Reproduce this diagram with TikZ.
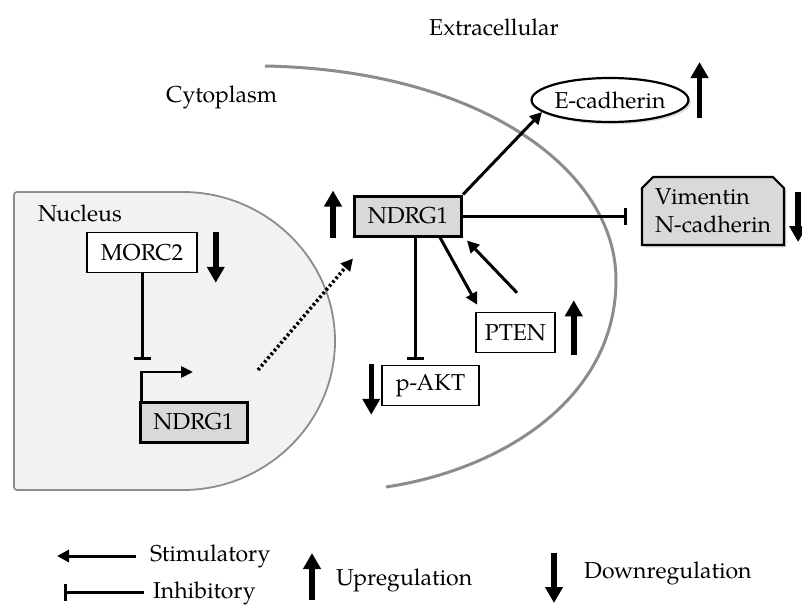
\documentclass[tikz,border=0pt]{standalone}
\usepackage{fontspec}
\setmainfont{TeX Gyre Pagella}
\usepackage{tikz}
\usetikzlibrary{arrows.meta,shapes.geometric,shapes.misc,shadows}
\definecolor{nucfill}{HTML}{F2F2F2}
\definecolor{boxgray}{HTML}{D9D9D9}
\definecolor{linegray}{HTML}{8C8C8C}
\tikzstyle{genebox} = [draw=black, fill=boxgray, line width=3pt,
    rectangle, inner sep=0pt, minimum width=107pt, minimum height=40pt]
\tikzstyle{protbox} = [draw=black, fill=white, line width=1.5pt,
    rectangle, inner sep=0pt, minimum height=40pt]
\tikzstyle{vimbox} = [draw=black, fill=boxgray, line width=2.2pt,
    chamfered rectangle, chamfered rectangle corners={north west,north east},
    chamfered rectangle xsep=8pt, inner sep=0pt, minimum width=142pt,
    minimum height=68pt, align=left, drop shadow={opacity=0.35}]
\tikzstyle{ecadnode} = [draw=black, fill=white, line width=2.2pt, ellipse,
    inner sep=0pt, minimum width=142pt, minimum height=44pt, drop shadow={opacity=0.25}]
\tikzstyle{lbl} = [inner sep=0pt, anchor=west]
\tikzstyle{regarrow} = [line width=5.5pt, -{Triangle[length=16pt,width=17pt]}]
\tikzstyle{stim} = [line width=3pt, -{Triangle[length=12pt,width=12pt]}]
\tikzstyle{inhib} = [line width=3pt, -{Bar[width=17pt]}]

\begin{document}
\begin{tikzpicture}[x=1pt, y=-1pt, every node/.style={font=\fontsize{23}{28}\selectfont}]
                \useasboundingbox (0,0) rectangle (802,605);
                % compartments
                \filldraw[fill=nucfill, draw=linegray, line width=1.8pt, rounded corners=3pt]
                    (180,490) arc[start angle=90, end angle=-90, x radius=155, y radius=149]
                    -- (14,192) -- (14,490) -- cycle;
                \draw[linegray, line width=3pt] (265,66) .. controls (480,70) and (616,170) .. (616,280)
                    .. controls (616,400) and (500,470) .. (386,487);
                \node[lbl] (nuclab) at (38,213) {Nucleus};
                \node[lbl] (cytlab) at (166,97) {Cytoplasm};
                \node[lbl] (extlab) at (429,27) {Extracellular};
                % nodes
                \node[protbox, minimum width=110pt] (morc) at (142,252.5) {MORC2};
                \node[genebox] (ndrgN) at (193.5,422) {NDRG1};
                \node[genebox] (ndrgC) at (408,216) {NDRG1};
                \node[protbox, minimum width=97pt] (pakt) at (430.5,385.5) {p-AKT};
                \node[protbox, minimum width=79pt] (pten) at (515.5,332.5) {PTEN};
                \node[vimbox] (vim) at (713,211) {Vimentin\\N-cadherin};
                \node[ecadnode] (ecad) at (610,100) {E-cadherin};
                \coordinate (tss) at (193,372);
                \coordinate (block) at (145,360);
                \coordinate (dotstart) at (258,370);
                % connectors
                \draw[inhib] (morc.south) -- (morc.south |- block);
                \draw[line width=2.8pt, -{Triangle[length=12pt,width=11pt]}] ([xshift=3pt]ndrgN.north west) |- (tss);
                \draw[stim, line width=3.5pt, dash pattern=on 2.5pt off 2.5pt] (dotstart) -- ([yshift=-21pt]ndrgC.south west);
                \draw[stim] (ndrgC.north east) -- (ecad.190);
                \draw[inhib, shorten >=14pt] (ndrgC.east) -- (ndrgC.east -| vim.west);
                \draw[inhib, shorten >=5pt] ([xshift=7pt]ndrgC.south) -- ([xshift=7pt]ndrgC.south |- pakt.north);
                \draw[stim] ([xshift=-23pt]ndrgC.south east) -- ([xshift=2pt,yshift=7pt]pten.north west);
                \draw[stim] ([xshift=1.5pt,yshift=19pt]pten.north) -- ([xshift=4pt,yshift=-3pt]ndrgC.south east);
                % up and down regulation
                \draw[regarrow] ([xshift=18pt]morc.north east) -- ([xshift=18pt,yshift=-51pt]morc.north east);
                \draw[regarrow] ([xshift=-20pt]ndrgC.south west) -- ([xshift=-20pt,yshift=4pt]ndrgC.north west);
                \draw[regarrow] ([xshift=-10pt,yshift=1pt]pakt.north west) -- ([xshift=-10pt,yshift=-50pt]pakt.north west);
                \draw[regarrow] ([xshift=18pt,yshift=-2pt]pten.south east) -- ([xshift=18pt,yshift=53pt]pten.south east);
                \draw[regarrow] ([xshift=10pt,yshift=-18pt]ecad.east) -- ([xshift=10pt,yshift=38pt]ecad.east);
                \draw[regarrow] ([xshift=13pt,yshift=19pt]vim.east) -- ([xshift=13pt,yshift=-31pt]vim.east);
                % legend
                \node[lbl] (legStim) at (150,556) {Stimulatory};
                \node[lbl] (legInh) at (153,593) {Inhibitory};
                \node[lbl] (legUp) at (336,580) {Upregulation};
                \node[lbl] (legDown) at (584,573) {Downregulation};
                \coordinate (stimEnd) at (57,556);
                \coordinate (inhEnd) at (64,592);
                \draw[stim] ([xshift=-14pt]legStim.west) -- (stimEnd);
                \draw[inhib] ([xshift=-9pt,yshift=1pt]legInh.west) -- (inhEnd);
                \draw[regarrow] ([xshift=-24pt,yshift=-20pt]legUp.west) -- ([xshift=-24pt,yshift=27pt]legUp.west);
                \draw[regarrow] ([xshift=-30pt,yshift=20pt]legDown.west) -- ([xshift=-30pt,yshift=-30pt]legDown.west);
            \end{tikzpicture}
\end{document}
